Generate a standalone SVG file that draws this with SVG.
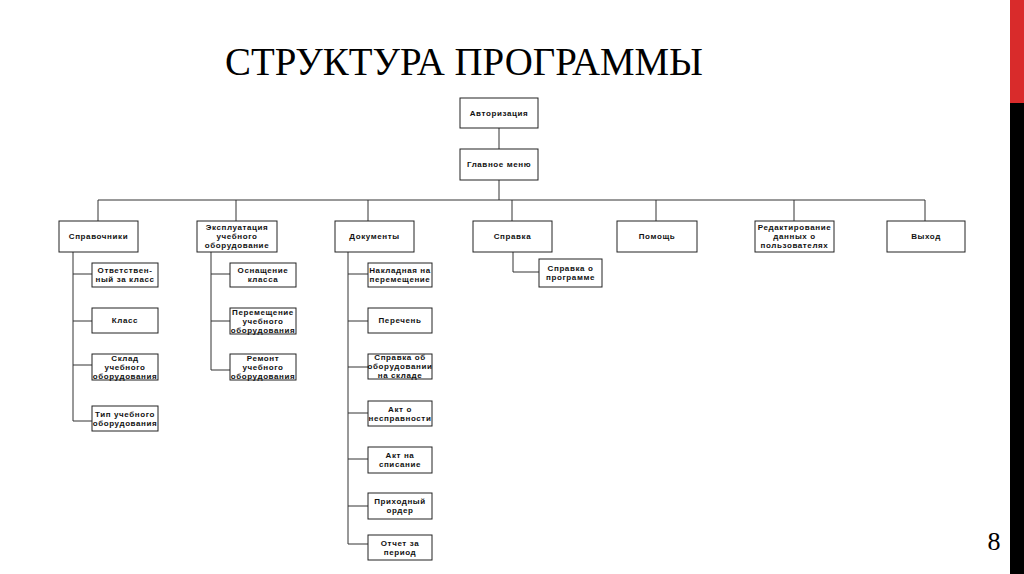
<svg xmlns="http://www.w3.org/2000/svg" width="1024" height="574" viewBox="0 0 1024 574">
<style>
.bx{fill:#fff;stroke:#222;stroke-width:1}
.t{font-family:"Liberation Sans",Arial,sans-serif;font-weight:bold;font-size:8px;letter-spacing:0.6px;text-anchor:middle;fill:#111}
.ln{fill:none;stroke:#333;stroke-width:1}
</style>
<rect width="1024" height="574" fill="#fff"/>
<rect x="1010" y="0" width="14" height="103" fill="#d92b2b"/>
<rect x="1010" y="103" width="14" height="471" fill="#000"/>
<text x="225" y="75" font-family="Liberation Serif, DejaVu Serif, serif" font-size="40" textLength="478" lengthAdjust="spacingAndGlyphs" fill="#000">СТРУКТУРА ПРОГРАММЫ</text>
<text x="994" y="550" font-family="Liberation Serif, DejaVu Serif, serif" font-size="26" text-anchor="middle" fill="#000">8</text>
<g id="connectors" class="ln">
<path d="M499 128V149M499 180V200M98 200H925M98 200V221M236 200V221M368 200V221M512 200V221M656 200V221M794 200V221M925 200V221"/>
<path d="M73 252V421M73 274H92M73 321H92M73 365H92M73 421H92"/>
<path d="M211 252V370M211 274H230M211 321H230M211 370H230"/>
<path d="M348 252V544M348 274H368M348 321H368M348 367H368M348 413H368M348 459H368M348 506H368M348 544H368"/>
<path d="M513 252V272H539"/>
</g>
<g id="n-auth"><rect class="bx" x="460" y="98" width="78" height="30"/><text class="t" x="499" y="115.8">Авторизация</text></g>
<g id="n-menu"><rect class="bx" x="460" y="149" width="78" height="31"/><text class="t" x="499" y="167.3">Главное меню</text></g>
<g id="n-sprav"><rect class="bx" x="59" y="221" width="79" height="31"/><text class="t" x="98.5" y="239.3">Справочники</text></g>
<g id="n-expl"><rect class="bx" x="197" y="221" width="80" height="31"/><text class="t" x="237" y="230.3">Эксплуатация</text><text class="t" x="237" y="239.3">учебного</text><text class="t" x="237" y="248.3">оборудование</text></g>
<g id="n-docs"><rect class="bx" x="335" y="221" width="79" height="31"/><text class="t" x="374.5" y="239.3">Документы</text></g>
<g id="n-help"><rect class="bx" x="473" y="221" width="79" height="31"/><text class="t" x="512.5" y="239.3">Справка</text></g>
<g id="n-pomosh"><rect class="bx" x="617" y="221" width="80" height="31"/><text class="t" x="657" y="239.3">Помощь</text></g>
<g id="n-edit"><rect class="bx" x="755" y="221" width="79" height="31"/><text class="t" x="794.5" y="230.3">Редактирование</text><text class="t" x="794.5" y="239.3">данных о</text><text class="t" x="794.5" y="248.3">пользователях</text></g>
<g id="n-exit"><rect class="bx" x="887" y="221" width="78" height="31"/><text class="t" x="926" y="239.3">Выход</text></g>
<g id="n-otv"><rect class="bx" x="92" y="263" width="66" height="24"/><text class="t" x="125" y="273.3">Ответствен-</text><text class="t" x="125" y="282.3">ный за класс</text></g>
<g id="n-klass"><rect class="bx" x="92" y="308" width="66" height="25"/><text class="t" x="125" y="323.3">Класс</text></g>
<g id="n-sklad"><rect class="bx" x="92" y="354" width="66" height="26"/><text class="t" x="125" y="360.8">Склад</text><text class="t" x="125" y="369.8">учебного</text><text class="t" x="125" y="378.8">оборудования</text></g>
<g id="n-tip"><rect class="bx" x="92" y="406" width="66" height="25"/><text class="t" x="125" y="416.8">Тип учебного</text><text class="t" x="125" y="425.8">оборудования</text></g>
<g id="n-osn"><rect class="bx" x="230" y="263" width="66" height="24"/><text class="t" x="263" y="273.3">Оснащение</text><text class="t" x="263" y="282.3">класса</text></g>
<g id="n-perem"><rect class="bx" x="230" y="308" width="66" height="26"/><text class="t" x="263" y="314.8">Перемещение</text><text class="t" x="263" y="323.8">учебного</text><text class="t" x="263" y="332.8">оборудования</text></g>
<g id="n-remont"><rect class="bx" x="230" y="354" width="66" height="26"/><text class="t" x="263" y="360.8">Ремонт</text><text class="t" x="263" y="369.8">учебного</text><text class="t" x="263" y="378.8">оборудования</text></g>
<g id="n-nakl"><rect class="bx" x="368" y="263" width="64" height="24"/><text class="t" x="400" y="273.3">Накладная на</text><text class="t" x="400" y="282.3">перемещение</text></g>
<g id="n-perech"><rect class="bx" x="368" y="308" width="64" height="25"/><text class="t" x="400" y="323.3">Перечень</text></g>
<g id="n-sprob"><rect class="bx" x="368" y="354" width="64" height="25"/><text class="t" x="400" y="360.3">Справка об</text><text class="t" x="400" y="369.3">оборудовании</text><text class="t" x="400" y="378.3">на складе</text></g>
<g id="n-akto"><rect class="bx" x="368" y="401" width="64" height="25"/><text class="t" x="400" y="411.8">Акт о</text><text class="t" x="400" y="420.8">несправности</text></g>
<g id="n-aktna"><rect class="bx" x="368" y="447" width="64" height="26"/><text class="t" x="400" y="458.3">Акт на</text><text class="t" x="400" y="467.3">списание</text></g>
<g id="n-prih"><rect class="bx" x="368" y="493" width="64" height="26"/><text class="t" x="400" y="504.3">Приходный</text><text class="t" x="400" y="513.3">ордер</text></g>
<g id="n-otch"><rect class="bx" x="368" y="535" width="64" height="25"/><text class="t" x="400" y="545.8">Отчет за</text><text class="t" x="400" y="554.8">период</text></g>
<g id="n-sprprog"><rect class="bx" x="539" y="259" width="63" height="28"/><text class="t" x="570.5" y="271.3">Справка о</text><text class="t" x="570.5" y="280.3">программе</text></g>
</svg>
